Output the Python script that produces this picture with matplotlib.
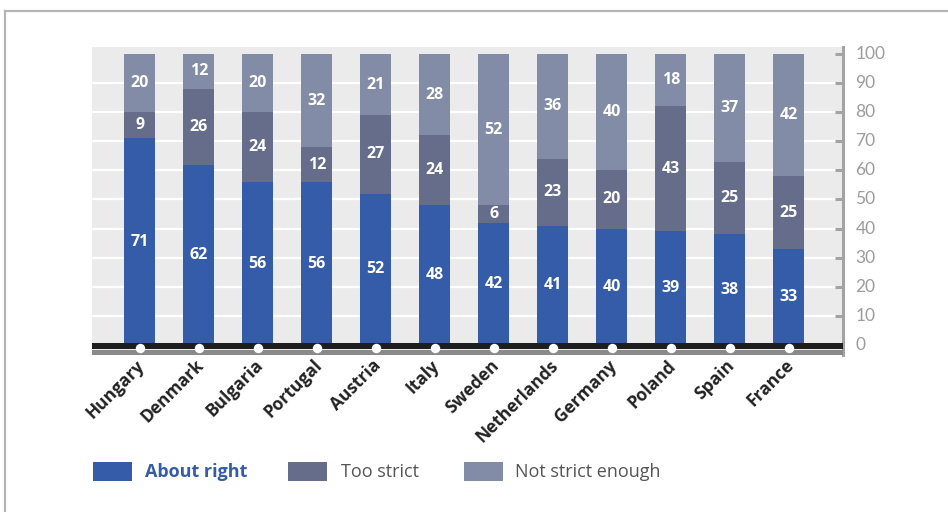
import matplotlib
matplotlib.use("Agg")
import matplotlib.pyplot as plt
from matplotlib.patches import Rectangle
from matplotlib.lines import Line2D
import matplotlib.transforms as mtransforms

# Survey shares (%) per country
countries = ["Hungary", "Denmark", "Bulgaria", "Portugal", "Austria", "Italy",
             "Sweden", "Netherlands", "Germany", "Poland", "Spain", "France"]
about_right = [71, 62, 56, 56, 52, 48, 42, 41, 40, 39, 38, 33]
too_strict = [9, 26, 24, 12, 27, 24, 6, 23, 20, 43, 25, 25]
not_strict_enough = [20, 12, 20, 32, 21, 28, 52, 36, 40, 18, 37, 42]
series_names = ["About right", "Too strict", "Not strict enough"]
y_ticks = list(range(0, 101, 10))

C_BLUE = "#355ca8"
C_TOO = "#666d8a"
C_NOT = "#838ca7"
C_BG = "#ebebeb"
C_AXIS = "#a3a3a3"

plt.rcParams["font.family"] = ["Open Sans", "DejaVu Sans"]

W, H = 948, 512
fig = plt.figure(figsize=(W / 100, H / 100), dpi=100)


def fx(px):
    return px / W


def fy(py):
    return 1 - py / H


# plot area
left, right, top, bottom = 92, 843, 47, 355
ax = fig.add_axes([fx(left), fy(bottom), fx(right) - fx(left), fy(top) - fy(bottom)])
ax.set_facecolor(C_BG)
ax.set_xlim(-0.81, 11.92)
ax.set_ylim(-3.44, 102.4)

x = list(range(len(countries)))
bw = 0.525

for yv in y_ticks[1:-1]:
    ax.axhline(yv, color="white", lw=1.6, zorder=1)

stack_base = [0] * len(countries)
for vals, col in [(about_right, C_BLUE), (too_strict, C_TOO), (not_strict_enough, C_NOT)]:
    ax.bar(x, vals, bw, bottom=stack_base, color=col, zorder=2, linewidth=0)
    for xi, v, b in zip(x, vals, stack_base):
        ax.text(xi, b + v / 2, str(v), ha="center", va="center", color="white",
                fontsize=11.5, fontweight="bold", zorder=5)
    stack_base = [b + v for b, v in zip(stack_base, vals)]

# base band with markers
ax.axhspan(-1.37, 0.69, color="#1e1e1e", zorder=3, lw=0)
ax.axhspan(-3.44, -1.55, color="#8a8a8a", zorder=3, lw=0)
ax.plot(x, [-1.0] * len(x), "o", color="white", markersize=6.8, markeredgewidth=0, zorder=4)

# right-hand value axis
for s in ["left", "top", "bottom"]:
    ax.spines[s].set_visible(False)
ax.spines["right"].set_color(C_AXIS)
ax.spines["right"].set_linewidth(2.2)
ax.yaxis.tick_right()
ax.set_yticks(y_ticks)
ax.set_yticklabels([str(t) for t in y_ticks], family=["Lato", "DejaVu Sans"])
ax.tick_params(axis="y", direction="in", length=6, width=2.2, color=C_AXIS,
               labelcolor="#9c9c9c", labelsize=12.5, pad=9)
for lbl in ax.get_yticklabels():
    lbl.set_verticalalignment("center")

ax.set_xticks(x)
ax.set_xticklabels(countries, rotation=45, ha="right", rotation_mode="anchor",
                   fontsize=12.5, fontweight="bold", color="#222222")
ax.tick_params(axis="x", length=0, pad=1)
shift = mtransforms.ScaledTranslation(-4 / 100, 0, fig.dpi_scale_trans)
for lbl in ax.get_xticklabels():
    lbl.set_transform(lbl.get_transform() + shift)

# outer frame lines
fig.add_artist(Line2D([fx(5), 1], [fy(11), fy(11)], color="#b5b5b5", lw=1.6))
fig.add_artist(Line2D([fx(5), fx(5)], [fy(11), 0], color="#b5b5b5", lw=1.6))

# legend
legend_items = [
    (93, 145, C_BLUE, series_names[0], C_BLUE, "bold"),
    (288, 341, C_TOO, series_names[1], "#555555", "normal"),
    (464, 515, C_NOT, series_names[2], "#555555", "normal"),
]
for bx, tx, col, name, tcol, wt in legend_items:
    fig.add_artist(Rectangle((fx(bx), fy(481)), fx(39), 19 / H, color=col,
                             transform=fig.transFigure, lw=0))
    fig.text(fx(tx), fy(472), name, ha="left", va="center", color=tcol,
             fontsize=13, fontweight=wt)

fig.savefig("out.png", dpi=100)
